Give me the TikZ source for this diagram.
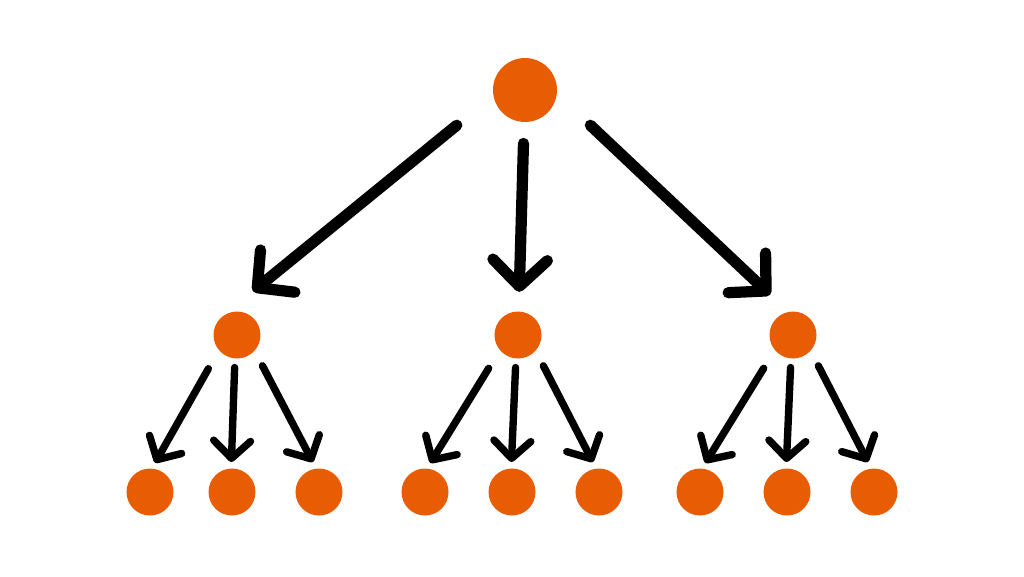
\documentclass[tikz,border=0pt]{standalone}
\usepackage{tikz}
\usetikzlibrary{arrows.meta}
\definecolor{dotorange}{RGB}{232,93,4}

\begin{document}
\begin{tikzpicture}[x=0.02cm,y=-0.02cm,
  dot/.style={circle,fill=dotorange,inner sep=0pt,minimum size=0.94cm},
  bigarrow/.style={line width=6.4pt,line cap=round,-{Straight Barb[length=15pt,width=31pt,round]}},
  smallarrow/.style={line width=4.2pt,line cap=round,-{Straight Barb[length=10pt,width=21pt,round]}}]
\useasboundingbox[fill=white] (0,0) rectangle (1024,576);
\node[dot,minimum size=1.28cm] (tree_root) at (525,90) {};
\node[dot] (tree_a) at (237,335) {};
\node[dot] (tree_b) at (518,335) {};
\node[dot] (tree_c) at (793,335) {};
\node[dot] (leaf_a1) at (150,492) {};
\node[dot] (leaf_a2) at (232,492) {};
\node[dot] (leaf_a3) at (319,492) {};
\node[dot] (leaf_b1) at (425,492) {};
\node[dot] (leaf_b2) at (512,492) {};
\node[dot] (leaf_b3) at (599,492) {};
\node[dot] (leaf_c1) at (700,492) {};
\node[dot] (leaf_c2) at (787,492) {};
\node[dot] (leaf_c3) at (874,492) {};
% first level
\draw[bigarrow,shorten <=26.7pt,shorten >=22.7pt] (tree_root.190)--(tree_a.129);
\draw[bigarrow,shorten <=12pt,shorten >=11pt] (tree_root)--(tree_b);
\draw[bigarrow,shorten <=26pt,shorten >=14pt] (tree_root.353)--(tree_c.102);
% second level
\draw[smallarrow,shorten <=12pt,shorten >=3.5pt] (tree_a.220)--(leaf_a1.85);
\draw[smallarrow,shorten <=5pt,shorten >=3.5pt] (tree_a.265)--(leaf_a2.92);
\draw[smallarrow,shorten <=9.5pt,shorten >=4pt] (tree_a.318)--(leaf_a3.97);
\draw[smallarrow,shorten <=12pt,shorten >=3.5pt] (tree_b.220)--(leaf_b1.85);
\draw[smallarrow,shorten <=5pt,shorten >=3.5pt] (tree_b.265)--(leaf_b2.92);
\draw[smallarrow,shorten <=9.5pt,shorten >=4pt] (tree_b.318)--(leaf_b3.97);
\draw[smallarrow,shorten <=12pt,shorten >=3.5pt] (tree_c.220)--(leaf_c1.85);
\draw[smallarrow,shorten <=5pt,shorten >=3.5pt] (tree_c.265)--(leaf_c2.92);
\draw[smallarrow,shorten <=9.5pt,shorten >=4pt] (tree_c.318)--(leaf_c3.97);
\end{tikzpicture}
\end{document}
